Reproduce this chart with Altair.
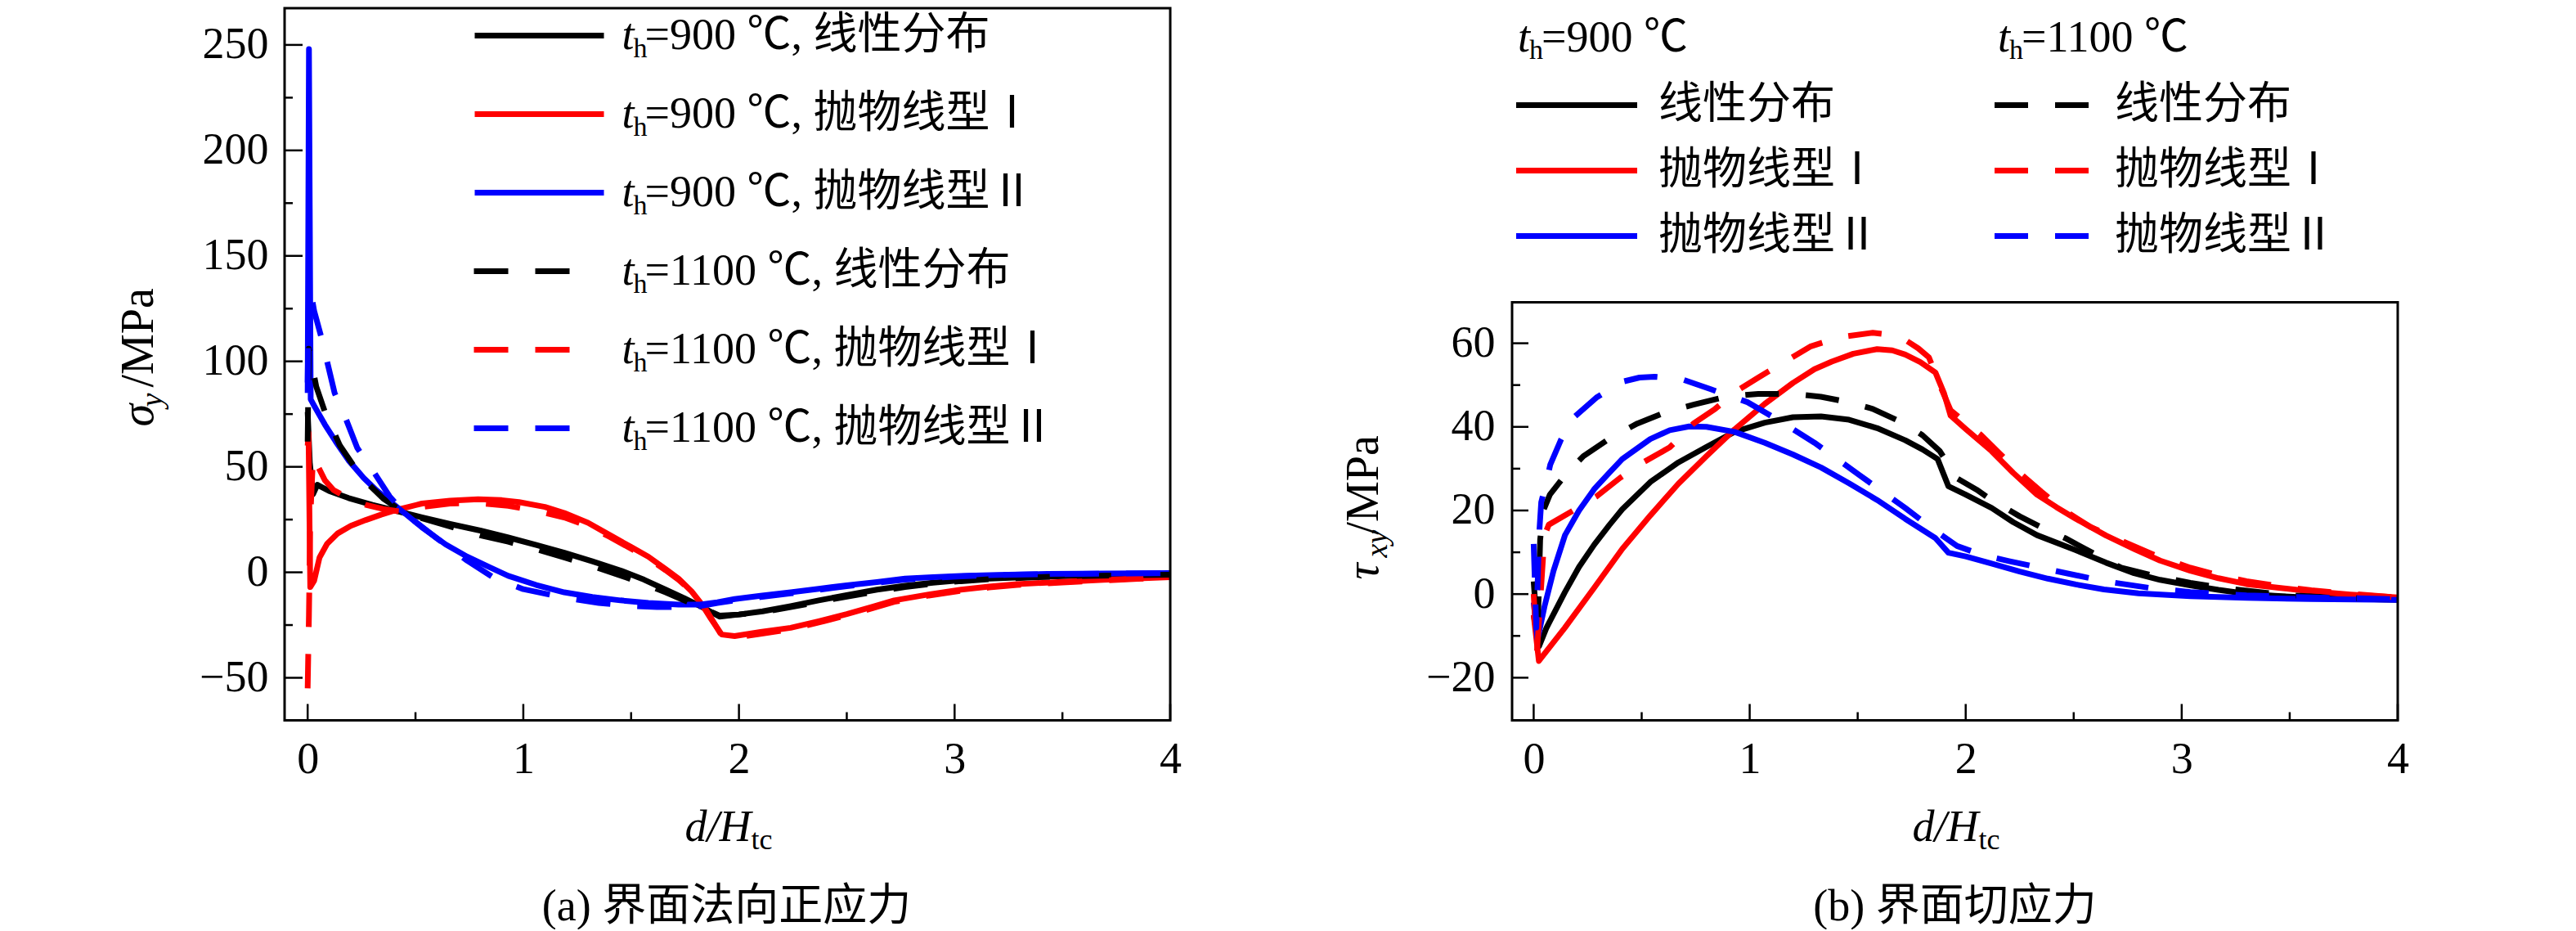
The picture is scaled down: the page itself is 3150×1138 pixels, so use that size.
import altair as alt
import pandas as pd

FONT = "'Liberation Serif', 'Noto Sans CJK SC', serif"
COLORS = ["#000000", "#ff0000", "#0000ff"]

# ---------------- (a) interface normal stress sigma_y ----------------
A_X_LIN900 = [0.0, 0.01, 0.025, 0.045, 0.1, 0.19, 0.3, 0.4, 0.53, 0.66, 0.8, 0.93, 1.06, 1.19, 1.32, 1.45, 1.56, 1.66, 1.75, 1.83, 1.91, 2.0, 2.11, 2.24, 2.37, 2.5, 2.64, 2.77, 2.9, 3.03, 3.16, 3.36, 3.56, 3.78, 4.0]
A_Y_LIN900 = [76, 52, 37, 41.5, 38.5, 35.2, 32.0, 29.4, 26.0, 22.9, 19.8, 16.5, 13.0, 9.3, 5.2, 0.9, -3.5, -8.2, -12.5, -16.5, -21.0, -20.0, -18.5, -16.0, -13.3, -10.8, -8.2, -6.4, -4.9, -3.8, -3.0, -2.2, -1.7, -1.3, -1.0]

A_X_PAR1_900 = [0.0, 0.004, 0.012, 0.03, 0.055, 0.09, 0.14, 0.2, 0.27, 0.34, 0.41, 0.53, 0.66, 0.79, 0.9, 0.98, 1.1, 1.19, 1.3, 1.4, 1.5, 1.58, 1.66, 1.72, 1.78, 1.83, 1.87, 1.92, 1.98, 2.1, 2.24, 2.37, 2.5, 2.62, 2.72, 2.88, 3.03, 3.16, 3.29, 3.5, 3.69, 3.85, 4.0]
A_Y_PAR1_900 = [60, 66, -7, -4, 7, 13.5, 18.5, 22, 24.8, 27.3, 29.5, 32.6, 34.0, 34.6, 34.2, 33.3, 31.0, 28.1, 23.5, 17.7, 12.0, 7.4, 1.5, -3.0, -9.0, -15.5, -22.0, -29.5, -30.2, -28.3, -26.3, -23.2, -19.8, -16.3, -13.3, -10.5, -8.2, -6.8, -5.6, -4.5, -3.6, -2.9, -2.3]

A_X_PAR2_900 = [0.0, 0.006, 0.014, 0.03, 0.08, 0.13, 0.19, 0.26, 0.32, 0.38, 0.45, 0.53, 0.64, 0.74, 0.84, 0.93, 1.06, 1.19, 1.32, 1.45, 1.58, 1.72, 1.82, 1.9, 1.98, 2.1, 2.24, 2.37, 2.5, 2.64, 2.77, 2.9, 3.03, 3.2, 3.43, 3.7, 4.0]
A_Y_PAR2_900 = [85, 248, 82, 79, 70, 62, 53, 44.7, 38.8, 33.8, 28.0, 21.3, 13.2, 7.4, 2.6, -1.7, -6.0, -9.5, -11.7, -13.3, -14.5, -15.3, -15.3, -14.2, -12.7, -11.1, -9.5, -7.8, -6.2, -4.6, -3.0, -2.3, -1.7, -1.2, -0.8, -0.6, -0.4]

A_X_LIN1100 = [0.0, 0.005, 0.04, 0.08, 0.15, 0.25, 0.35, 0.45, 0.6, 0.8, 0.93, 1.06, 1.19, 1.32, 1.45, 1.56, 1.66, 1.75, 1.83, 1.91, 2.0, 2.11, 2.24, 2.37, 2.5, 2.64, 2.77, 2.9, 3.03, 3.16, 3.36, 3.56, 3.78, 4.0]
A_Y_LIN1100 = [62, 106, 88, 76, 60, 45, 35, 28, 23.5, 17.5, 14.5, 11.0, 7.0, 3.0, -1.5, -5.5, -9.5, -13.5, -17.0, -20.5, -20.0, -18.8, -16.5, -14.0, -11.5, -9.0, -7.0, -5.4, -4.2, -3.3, -2.4, -1.8, -1.4, -1.1]

A_X_PAR1_1100 = [0.0, 0.006, 0.012, 0.025, 0.045, 0.08, 0.12, 0.19, 0.27, 0.35, 0.45, 0.53, 0.66, 0.8, 0.93, 1.06, 1.19, 1.3, 1.4, 1.5, 1.58, 1.66, 1.72, 1.78, 1.83, 1.87, 1.92, 1.98, 2.1, 2.24, 2.37, 2.5, 2.62, 2.72, 2.88, 3.03, 3.16, 3.29, 3.5, 3.69, 3.85, 4.0]
A_Y_PAR1_1100 = [-55, -20, 25, 55, 50.8, 43.6, 39, 35, 32, 30, 28.5, 31.0, 32.6, 32.8, 31.5, 29.2, 26.0, 22.0, 16.8, 11.2, 6.5, 1.0, -3.5, -9.0, -14.8, -21.5, -30.0, -31.0, -29.2, -27.0, -23.8, -20.4, -17.0, -14.0, -11.0, -8.7, -7.2, -6.0, -4.8, -3.9, -3.1, -2.5]

A_X_PAR2_1100 = [0.0, 0.006, 0.03, 0.067, 0.097, 0.125, 0.18, 0.23, 0.31, 0.38, 0.45, 0.6, 0.74, 0.87, 1.0, 1.19, 1.35, 1.5, 1.62, 1.72, 1.82, 1.9, 1.98, 2.1, 2.24, 2.37, 2.5, 2.64, 2.77, 2.9, 3.03, 3.2, 3.43, 3.7, 4.0]
A_Y_PAR2_1100 = [90, 138, 124, 110, 97, 85, 72, 59, 47, 36, 28, 16, 5.5, -3, -8, -12, -14.5, -16, -16.5, -16.5, -16, -14.5, -13.3, -11.7, -10, -8.3, -6.6, -5.0, -3.5, -2.6, -1.9, -1.3, -0.9, -0.6, -0.4]

# ---------------- (b) interface shear stress tau_xy ----------------
B_X_LIN900 = [0.0, 0.025, 0.06, 0.1, 0.145, 0.21, 0.28, 0.35, 0.41, 0.54, 0.67, 0.8, 0.93, 1.07, 1.2, 1.33, 1.46, 1.59, 1.72, 1.8, 1.87, 1.92, 2.0, 2.12, 2.22, 2.33, 2.51, 2.65, 2.78, 2.9, 3.04, 3.17, 3.3, 3.43, 3.57, 3.78, 4.0]
B_Y_LIN900 = [-5, -12.5, -8, -4, 0.5, 6.5, 11.8, 16.5, 20.3, 26.8, 31.5, 35.2, 38.8, 41, 42.3, 42.5, 41.7, 39.7, 36.8, 34.6, 32.3, 25.8, 23.8, 20.6, 17.2, 14.1, 10.5, 7.5, 5, 3.4, 2.1, 1, 0.1, -0.4, -0.8, -1.1, -1.4]

B_X_PAR1_900 = [0.0, 0.024, 0.145, 0.28, 0.41, 0.54, 0.67, 0.8, 0.93, 1.07, 1.2, 1.3, 1.38, 1.48, 1.59, 1.66, 1.72, 1.79, 1.86, 1.9, 1.93, 2.0, 2.12, 2.22, 2.33, 2.42, 2.51, 2.65, 2.78, 2.9, 3.04, 3.17, 3.3, 3.45, 3.57, 3.78, 4.0]
B_Y_PAR1_900 = [-5, -16, -8, 1.5, 10.8, 18.8, 26.4, 33, 39.4, 45.5, 50.5, 53.8, 55.6, 57.5, 58.6, 58.3, 57.3, 55.5, 53, 48, 42.7, 39.5, 34.2, 29, 23.8, 20.8, 18, 14, 10.8, 8, 5.6, 3.8, 2.4, 1.5, 0.8, -0.1, -0.8]

B_X_PAR2_900 = [0.0, 0.018, 0.05, 0.092, 0.145, 0.21, 0.28, 0.35, 0.41, 0.54, 0.63, 0.72, 0.8, 0.93, 1.07, 1.2, 1.33, 1.46, 1.59, 1.72, 1.86, 1.92, 2.0, 2.12, 2.25, 2.38, 2.51, 2.64, 2.8, 3.04, 3.3, 3.6, 4.0]
B_Y_PAR2_900 = [-2, -10.8, -3, 5.6, 14.1, 20, 25.1, 29, 32.3, 37.1, 39.2, 40.1, 40, 38.8, 36.2, 33.4, 30.3, 26.5, 22.5, 18, 13.4, 9.9, 9, 7.3, 5.4, 3.7, 2.3, 1.1, 0.2, -0.5, -0.9, -1.2, -1.4]

B_X_LIN1100 = [0.0, 0.018, 0.03, 0.045, 0.075, 0.145, 0.23, 0.36, 0.48, 0.62, 0.74, 0.89, 1.04, 1.2, 1.33, 1.45, 1.57, 1.72, 1.8, 1.88, 1.96, 2.05, 2.12, 2.25, 2.35, 2.46, 2.6, 2.72, 2.88, 3.04, 3.17, 3.3, 3.5, 3.75, 4.0]
B_Y_LIN1100 = [3, -10, 13, 20, 23.8, 28.4, 33, 37.5, 40.8, 43.7, 45.3, 47.2, 47.9, 47.9, 47.2, 46, 44.3, 40.7, 38, 34.2, 27.7, 25, 22.5, 18.6, 16, 13.4, 9.5, 6.3, 4.3, 2.7, 1.6, 0.8, -0.3, -0.9, -1.2]

B_X_PAR1_1100 = [0.0, 0.015, 0.05, 0.07, 0.18, 0.29, 0.4, 0.51, 0.63, 0.74, 0.84, 0.94, 1.04, 1.16, 1.28, 1.42, 1.57, 1.65, 1.72, 1.78, 1.83, 1.88, 1.93, 2.0, 2.07, 2.16, 2.25, 2.35, 2.46, 2.58, 2.72, 2.88, 3.04, 3.17, 3.3, 3.45, 3.6, 3.8, 4.0]
B_Y_PAR1_1100 = [0, -14, 14, 16.6, 19.9, 23.3, 27.8, 31.6, 35.1, 40.8, 44.3, 48.6, 51.8, 55.5, 59.2, 61.5, 62.5, 62, 60.8, 58.8, 56.6, 50, 44, 41, 38.1, 33.5, 29, 24.5, 19.9, 16, 12.8, 9.2, 6.3, 4.5, 3.1, 1.9, 0.9, 0.0, -0.8]

B_X_PAR2_1100 = [0.0, 0.012, 0.025, 0.035, 0.06, 0.077, 0.127, 0.18, 0.29, 0.41, 0.49, 0.56, 0.68, 0.82, 0.99, 1.14, 1.3, 1.51, 1.72, 1.85, 1.96, 2.08, 2.2, 2.41, 2.64, 2.85, 3.04, 3.3, 3.6, 4.0]
B_Y_PAR2_1100 = [12, -8, 14, 22, 27, 31, 37, 42, 47, 50.8, 51.8, 52, 51.5, 49, 45.9, 41.4, 36.2, 28.4, 20.6, 15.5, 11.5, 9.3, 7.9, 5.6, 3.1, 1.5, 0.5, -0.3, -0.8, -1.2]

# ---------------- names, ticks ----------------
A_NAMES_900 = ["900 ℃, 线性分布", "900 ℃, 抛物线型Ⅰ", "900 ℃, 抛物线型Ⅱ"]
A_NAMES_1100 = ["1100 ℃, 线性分布", "1100 ℃, 抛物线型Ⅰ", "1100 ℃, 抛物线型Ⅱ"]
B_NAMES = ["线性分布", "抛物线型Ⅰ", "抛物线型Ⅱ"]

X_TICKS_MAJOR = [0, 1, 2, 3, 4]
X_TICKS_MINOR = [0.5, 1.5, 2.5, 3.5]
A_Y_TICKS_MAJOR = [-50, 0, 50, 100, 150, 200, 250]
A_Y_TICKS_MINOR = [-25, 25, 75, 125, 175, 225]
B_Y_TICKS_MAJOR = [-20, 0, 20, 40, 60]
B_Y_TICKS_MINOR = [-10, 10, 30, 50]

# ---------------- layout constants ----------------
W = 1083
H = 870.5                    # both panels share the same origin row
ORIGIN_TOP = 9.5             # absolute y of the plot origin
A_LEFT = 346.5
B_LEFT = 1846.0
B_FRAME_TOP = 369.0 - ORIGIN_TOP   # panel (b) plot frame top inside its view
LINE_W = 7

XS_A = alt.Scale(domain=[-0.107, 4.0], nice=False, zero=False)
XS_B = alt.Scale(domain=[-0.1, 4.0], nice=False, zero=False)
YS_A = alt.Scale(domain=[-70.17, 267.41], nice=False, zero=False)
YS_B = alt.Scale(domain=[-30.2, 69.8], range=[H, B_FRAME_TOP], nice=False, zero=False)

X_AXIS = alt.Axis(values=X_TICKS_MAJOR, format="d", ticks=False, domain=False, grid=False,
                  labelFont=FONT, labelFontSize=54, labelColor="black", labelPadding=21,
                  labelFlush=False, labelOverlap=False, title=None)
YA_AXIS = alt.Axis(values=A_Y_TICKS_MAJOR, format="d", ticks=False, domain=False, grid=False,
                   labelFont=FONT, labelFontSize=54, labelColor="black", labelPadding=20,
                   labelOverlap=False, title=None)
YB_AXIS = alt.Axis(values=B_Y_TICKS_MAJOR, format="d", ticks=False, domain=False, grid=False,
                   labelFont=FONT, labelFontSize=54, labelColor="black", labelPadding=21,
                   labelOverlap=False, title=None)


def frame(names, xs_list, ys_list):
    rows = []
    for name, xs, ys in zip(names, xs_list, ys_list):
        for i, (x, y) in enumerate(zip(xs, ys)):
            rows.append({"series": name, "d": x, "v": y, "i": i})
    return pd.DataFrame(rows)


def legend(lx, ly, length, gap, rowpad, dash=None, expr=None):
    # custom stroke symbol: starts at the entry's left edge, `length` px long
    path = "M-2.7,0H%.2f" % ((length - 27) / 10.0)
    kw = dict(orient="none", legendX=lx, legendY=ly, title=None, symbolType=path,
              symbolSize=400, symbolStrokeWidth=LINE_W, labelFont=FONT,
              labelFontSize=54, labelColor="black", labelOffset=gap - 54, rowPadding=rowpad,
              padding=0, labelLimit=2000, direction="vertical")
    if dash:
        kw["symbolDash"] = dash
    if expr:
        kw["labelExpr"] = expr
    return alt.Legend(**kw)


def lines(df, names, xs, ys, xa, ya, leg, dash=None):
    mk = dict(strokeWidth=LINE_W, strokeJoin="round")
    if dash:
        mk["strokeDash"] = dash
    return alt.Chart(df).mark_line(**mk).encode(
        x=alt.X("d:Q", scale=xs, axis=xa),
        y=alt.Y("v:Q", scale=ys, axis=ya),
        color=alt.Color("series:N", scale=alt.Scale(domain=names, range=COLORS), legend=leg),
        order=alt.Order("i:Q"),
    )


def xticks(vals, length, xs, xa):
    return alt.Chart(pd.DataFrame({"v": vals})).mark_rule(color="black", strokeWidth=2.5).encode(
        x=alt.X("v:Q", scale=xs, axis=xa), y=alt.value(H), y2=alt.value(H - length))


def yticks(vals, length, ys, ya):
    return alt.Chart(pd.DataFrame({"v": vals})).mark_rule(color="black", strokeWidth=2.5).encode(
        y=alt.Y("v:Q", scale=ys, axis=ya), x=alt.value(0), x2=alt.value(length))


def box(top):
    return alt.Chart(pd.DataFrame({"a": [0]})).mark_rect(
        filled=False, stroke="black", strokeWidth=3).encode(
        x=alt.value(0), x2=alt.value(W), y=alt.value(top), y2=alt.value(H))


def txt(s, x, y, size=54, style="normal", align="left", angle=0):
    return alt.Chart(pd.DataFrame({"t": [s]})).mark_text(
        font=FONT, fontSize=size, fontStyle=style, align=align, baseline="alphabetic",
        angle=angle, color="black").encode(x=alt.value(x), y=alt.value(y), text="t:N")


def ry(v):
    return v - ORIGIN_TOP


# ---------------- panel (a) ----------------
def ax(v):
    return v - A_LEFT


A_ROW0, A_PITCH = 43.0, 96.0
dfa900 = frame(A_NAMES_900, [A_X_LIN900, A_X_PAR1_900, A_X_PAR2_900], [A_Y_LIN900, A_Y_PAR1_900, A_Y_PAR2_900])
dfa1100 = frame(A_NAMES_1100, [A_X_LIN1100, A_X_PAR1_1100, A_X_PAR2_1100], [A_Y_LIN1100, A_Y_PAR1_1100, A_Y_PAR2_1100])

a_layers = [
    lines(dfa900, A_NAMES_900, XS_A, YS_A, X_AXIS, YA_AXIS,
          legend(ax(579), ry(A_ROW0) - 27, 158, 208, A_PITCH - 54, expr="'=' + datum.label")),
    lines(dfa1100, A_NAMES_1100, XS_A, YS_A, X_AXIS, YA_AXIS,
          legend(ax(578), ry(A_ROW0 + 3 * A_PITCH) - 27, 117, 209, A_PITCH - 54, dash=[42, 33],
                 expr="'=' + datum.label"), dash=[42, 33]),
    box(0),
    xticks(X_TICKS_MAJOR, 20, XS_A, X_AXIS),
    xticks(X_TICKS_MINOR, 10, XS_A, X_AXIS),
    yticks(A_Y_TICKS_MAJOR, 22, YS_A, YA_AXIS),
    yticks(A_Y_TICKS_MINOR, 10, YS_A, YA_AXIS),
    txt("σ", ax(185), ry(521), 56, "italic", angle=270),
    txt("y", ax(196), ry(497), 38, "italic", angle=270),
    txt("/MPa", ax(185), ry(473), 56, angle=270),
    txt("d/H", ax(917), ry(1027), 54, "italic", align="right"),
    txt("tc", ax(917), ry(1037), 36),
    txt("(a) 界面法向正应力", ax(887), ry(1124), 54, align="center"),
]
for r in range(6):
    yc = A_ROW0 + A_PITCH * r
    a_layers.append(txt("t", ax(759), ry(yc + 16), 54, "italic"))
    a_layers.append(txt("h", ax(773), ry(yc + 26), 34))

panel_a = alt.layer(*a_layers).resolve_scale(color="independent").properties(width=W, height=H)


# ---------------- panel (b) ----------------
def bx(v):
    return v - B_LEFT


B_ROW0, B_PITCH = 128.0, 80.0
dfb900 = frame(B_NAMES, [B_X_LIN900, B_X_PAR1_900, B_X_PAR2_900], [B_Y_LIN900, B_Y_PAR1_900, B_Y_PAR2_900])
dfb1100 = frame(B_NAMES, [B_X_LIN1100, B_X_PAR1_1100, B_X_PAR2_1100], [B_Y_LIN1100, B_Y_PAR1_1100, B_Y_PAR2_1100])

b_layers = [
    lines(dfb900, B_NAMES, XS_B, YS_B, X_AXIS, YB_AXIS,
          legend(bx(1851), ry(B_ROW0) - 27, 148, 174, B_PITCH - 54)),
    lines(dfb1100, B_NAMES, XS_B, YS_B, X_AXIS, YB_AXIS,
          legend(bx(2436), ry(B_ROW0) - 27, 115, 147, B_PITCH - 54, dash=[41, 33]), dash=[41, 33]),
    box(B_FRAME_TOP),
    xticks(X_TICKS_MAJOR, 20, XS_B, X_AXIS),
    xticks(X_TICKS_MINOR, 10, XS_B, X_AXIS),
    yticks(B_Y_TICKS_MAJOR, 20, YS_B, YB_AXIS),
    yticks(B_Y_TICKS_MINOR, 10, YS_B, YB_AXIS),
    txt("t", bx(1853), ry(62), 54, "italic"),
    txt("h", bx(1867), ry(71), 34),
    txt("=900 ℃", bx(1882), ry(62), 54),
    txt("t", bx(2440), ry(62), 54, "italic"),
    txt("h", bx(2454), ry(71), 34),
    txt("=1100 ℃", bx(2469), ry(62), 54),
    txt("τ", bx(1682), ry(708), 56, "italic", angle=270),
    txt("xy", bx(1693), ry(681), 38, "italic", angle=270),
    txt("/MPa", bx(1682), ry(653), 56, angle=270),
    txt("d/H", bx(2416.5), ry(1027), 54, "italic", align="right"),
    txt("tc", bx(2416.5), ry(1037), 36),
    txt("(b) 界面切应力", bx(2387.5), ry(1124), 54, align="center"),
]

panel_b = alt.layer(*b_layers).resolve_scale(color="independent").properties(width=W, height=H)

chart = (
    alt.hconcat(panel_a, panel_b, spacing=195)
    .resolve_scale(color="independent")
    .properties(background="white", padding={"left": 133, "top": 0, "right": 5, "bottom": 0})
    .configure_view(stroke="transparent", strokeWidth=0)
)

chart.save("out.html", embed_options={"renderer": "svg", "actions": False})
